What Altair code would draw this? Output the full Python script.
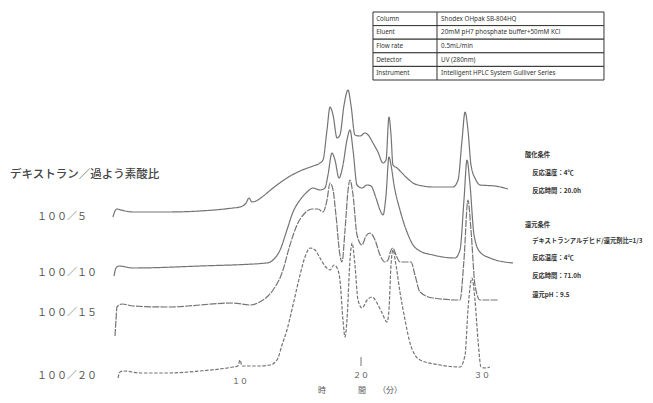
import altair as alt
import pandas as pd

# ---- chromatogram traces: retention time (min) and detector response (a.u., offset per sample)
t_5 = [-0.50, -0.33, -0.17, 0.17, 1.16, 3.97, 6.69, 9.42, 10.0, 10.50, 10.74, 10.99, 11.32, 11.82,
       12.73, 13.88, 14.96, 16.03, 16.61, 16.86, 17.19, 17.44, 17.69, 18.02, 18.26, 18.60, 18.93,
       19.17, 19.50, 19.92, 20.33, 20.66, 20.99, 21.40, 21.82, 22.07, 22.31, 22.48, 22.64, 22.98,
       23.31, 23.80, 24.30, 25.12, 25.95, 27.60, 28.02, 28.35, 28.60, 28.84, 29.09, 29.50, 29.83,
       31.07, 32.15]
r_5 = [178, 184, 186, 185, 183, 183, 184, 187, 188, 192, 197, 193, 194, 198, 207, 217, 224, 229,
       232, 235, 265, 288, 280, 257, 260, 290, 305, 290, 260, 259, 262, 259, 252, 243, 232, 235,
       278, 260, 230, 227, 223, 217, 212, 209, 208, 208, 215, 255, 283, 265, 230, 215, 210, 209, 206]

t_10 = [-0.41, -0.25, 0.0, 1.16, 6.69, 12.23, 12.73, 13.31, 13.88, 14.38, 14.96, 15.54, 16.03,
        16.61, 17.02, 17.27, 17.60, 17.85, 18.18, 18.51, 18.84, 19.09, 19.34, 19.67, 20.08, 20.50,
        20.83, 21.24, 21.57, 21.82, 22.07, 22.31, 22.48, 22.73, 23.22, 23.80, 24.30, 24.88, 25.95,
        27.77, 28.18, 28.51, 28.76, 29.01, 29.34, 29.83, 30.66, 32.56]
r_10 = [119, 127, 129, 127, 129, 132, 135, 145, 165, 183, 195, 203, 207, 205, 207, 220, 242, 235,
        217, 230, 255, 265, 245, 210, 207, 210, 209, 197, 185, 180, 200, 238, 230, 210, 185, 163,
        150, 144, 140, 137, 145, 195, 235, 210, 160, 143, 137, 132]

t_15 = [-0.33, -0.25, -0.17, 0.25, 1.16, 3.97, 9.42, 10.83, 11.90, 12.31, 12.73, 13.47, 14.13,
        14.71, 15.37, 15.95, 16.45, 16.86, 17.19, 17.44, 17.69, 17.93, 18.26, 18.43, 18.68, 18.93,
        19.09, 19.34, 19.67, 20.08, 20.41, 20.74, 21.16, 21.57, 21.98, 22.23, 22.48, 22.64, 22.89,
        23.22, 23.80, 24.13, 24.46, 24.88, 25.95, 28.18, 28.51, 28.84, 29.09, 29.42, 29.83, 31.32]
r_15 = [59, 75, 88, 91, 89, 88, 92, 90, 95, 99, 105, 122, 150, 170, 182, 186, 186, 183, 195, 212,
        205, 180, 140, 133, 165, 205, 215, 200, 160, 150, 159, 162, 155, 140, 133, 135, 145, 147,
        140, 133, 133, 133, 120, 103, 97, 95, 135, 195, 165, 110, 95, 95]

t_20 = [-0.08, 0.08, 0.41, 1.74, 3.97, 6.69, 9.42, 9.83, 10.0, 10.17, 11.65, 12.48, 13.06, 13.47,
        13.88, 14.38, 14.96, 15.37, 15.79, 16.20, 16.61, 17.02, 17.44, 17.77, 18.02, 18.26, 18.51,
        18.68, 18.84, 19.09, 19.26, 19.50, 19.75, 20.08, 20.50, 20.91, 21.32, 21.74, 22.15, 22.31,
        22.48, 22.64, 22.89, 23.22, 23.64, 24.05, 24.46, 24.88, 26.53, 28.18, 28.60, 28.84, 29.17,
        29.42, 29.67, 29.92, 30.25, 30.66]
r_20 = [17, 23, 24, 22, 22, 24, 28, 29, 35, 29, 29, 30, 35, 50, 65, 90, 120, 138, 147, 145, 137,
        129, 125, 130, 127, 115, 75, 58, 75, 135, 152, 130, 95, 87, 95, 98, 92, 82, 73, 85, 130,
        145, 130, 103, 75, 52, 40, 35, 30, 28, 40, 85, 117, 95, 55, 28, 27, 28]

sample_names = ["１００／５", "１００／１０", "１００／１５", "１００／２０"]
label_t = [-6.78, -6.78, -6.78, -6.78]
label_r = [178, 122, 82, 19]

tick_times = [10, 20, 30]
tick_labels = ["１０", "２０", "３０"]
tick_label_r = [13, 19, 19]

table_keys = ["Column", "Eluent", "Flow rate", "Detector", "Instrument"]
table_values = ["Shodex OHpak SB-804HQ", "20mM pH7  phosphate buffer+50mM KCl", "0.5mL/min",
                "UV (280nm)", "Intelligent HPLC System Gulliver Series"]

cond_lines = ["酸化条件", "反応温度：4℃", "反応時間：20.0h", "還元条件",
              "デキストランアルデヒド/還元剤比=1/3", "反応温度：4℃", "反応時間：71.0h", "還元pH：9.5"]
cond_indent = [0, 1, 1, 0, 1, 1, 1, 1]
cond_r = [240, 222, 204, 170, 154, 137, 119, 100]

# ---- build tables
rows = []
for name, ts, rs in zip(sample_names, [t_5, t_10, t_15, t_20], [r_5, r_10, r_15, r_20]):
    for i, (t, r) in enumerate(zip(ts, rs)):
        rows.append({"sample": name, "t": t, "r": r, "i": i})
traces = pd.DataFrame(rows)

labels = pd.DataFrame({"sample": sample_names, "t": label_t, "r": label_r})
ticks = pd.DataFrame({"t": tick_times, "lab": tick_labels, "r": tick_label_r})

x_scale = alt.Scale(domain=[-9.174, 43.471], nice=False, zero=False)
y_scale = alt.Scale(domain=[0, 387], nice=False, zero=False)
X = lambda f="t": alt.X(f"{f}:Q", scale=x_scale, axis=None)
Y = lambda f="r": alt.Y(f"{f}:Q", scale=y_scale, axis=None)

JP = "Noto Sans CJK JP"

lines = alt.Chart(traces).mark_line(strokeWidth=1.2, color="#747474", interpolate="monotone").encode(
    x=X(), y=Y(), order="i:Q",
    detail="sample:N",
    strokeDash=alt.StrokeDash("sample:N", legend=None,
                              scale=alt.Scale(domain=sample_names,
                                              range=[[1, 0], [1, 0], [7, 1.2], [3.5, 1.6]])),
)

label_layer = alt.Chart(labels).mark_text(align="left", baseline="middle", font=JP,
                                          fontSize=10, color="#555").encode(
    x=X(), y=Y(), text="sample:N")

heading = alt.Chart(pd.DataFrame({"t": [-9.0], "r": [220], "s": ["デキストラン／過よう素酸比"]})).mark_text(
    align="left", baseline="middle", font=JP, fontSize=11.5, color="#444", fontWeight=500).encode(
    x=X(), y=Y(), text="s:N")

tick_text = alt.Chart(ticks).mark_text(baseline="middle", font=JP, fontSize=8, color="#555").encode(
    x=X(), y=Y(), text="lab:N")

tick_mark = alt.Chart(pd.DataFrame({"t": [20], "r0": [29], "r1": [38]})).mark_rule(
    color="#777", strokeWidth=1).encode(x=X(), y=Y("r0"), y2="r1:Q")

xtitle = alt.Chart(pd.DataFrame({"t": [19.92], "r": [4], "s": ["時　　　　間　　（分）"]})).mark_text(
    baseline="middle", font=JP, fontSize=8, color="#555").encode(x=X(), y=Y(), text="s:N")

# ---- conditions table (top right)
row_h = 13.6
tab_top = 383
tab_rows = pd.DataFrame({
    "k": table_keys, "v": table_values,
    "top": [tab_top - i * row_h for i in range(5)],
    "bot": [tab_top - (i + 1) * row_h for i in range(5)],
})
tab_rows["mid"] = (tab_rows["top"] + tab_rows["bot"]) / 2
tab_rows["x0"] = 20.99
tab_rows["x1"] = 40.08
tab_rows["xd"] = 26.28
tab_rows["xk"] = 21.25
tab_rows["xv"] = 26.62

cells = alt.Chart(tab_rows).mark_rect(fill="white", stroke="#333", strokeWidth=1).encode(
    x=X("x0"), x2="x1:Q", y=Y("top"), y2="bot:Q")
divider = alt.Chart(tab_rows).mark_rule(color="#333", strokeWidth=1).encode(
    x=X("xd"), y=Y("top"), y2="bot:Q")
keys_txt = alt.Chart(tab_rows).mark_text(align="left", baseline="middle", font="Noto Sans",
                                         fontSize=6.3, color="#333").encode(
    x=X("xk"), y=Y("mid"), text="k:N")
vals_txt = alt.Chart(tab_rows).mark_text(align="left", baseline="middle", font="Noto Sans",
                                         fontSize=6.3, color="#333").encode(
    x=X("xv"), y=Y("mid"), text="v:N")

# ---- reaction conditions (right side)
cond = pd.DataFrame({"s": cond_lines, "r": cond_r,
                     "t": [33.55 + 0.6 * k for k in cond_indent]})
cond_txt = alt.Chart(cond).mark_text(align="left", baseline="middle", font=JP, fontSize=6.3,
                                     color="#333", fontWeight="bold").encode(
    x=X(), y=Y(), text="s:N")

chart = alt.layer(
    lines, label_layer, heading, tick_text, tick_mark, xtitle,
    cells, divider, keys_txt, vals_txt, cond_txt,
).properties(
    width=637, height=387, padding=0,
    autosize=alt.AutoSizeParams(type="none"),
    background="white",
).configure_view(stroke=None)

chart.save("out.html", embed_options={"renderer": "svg", "actions": False})
